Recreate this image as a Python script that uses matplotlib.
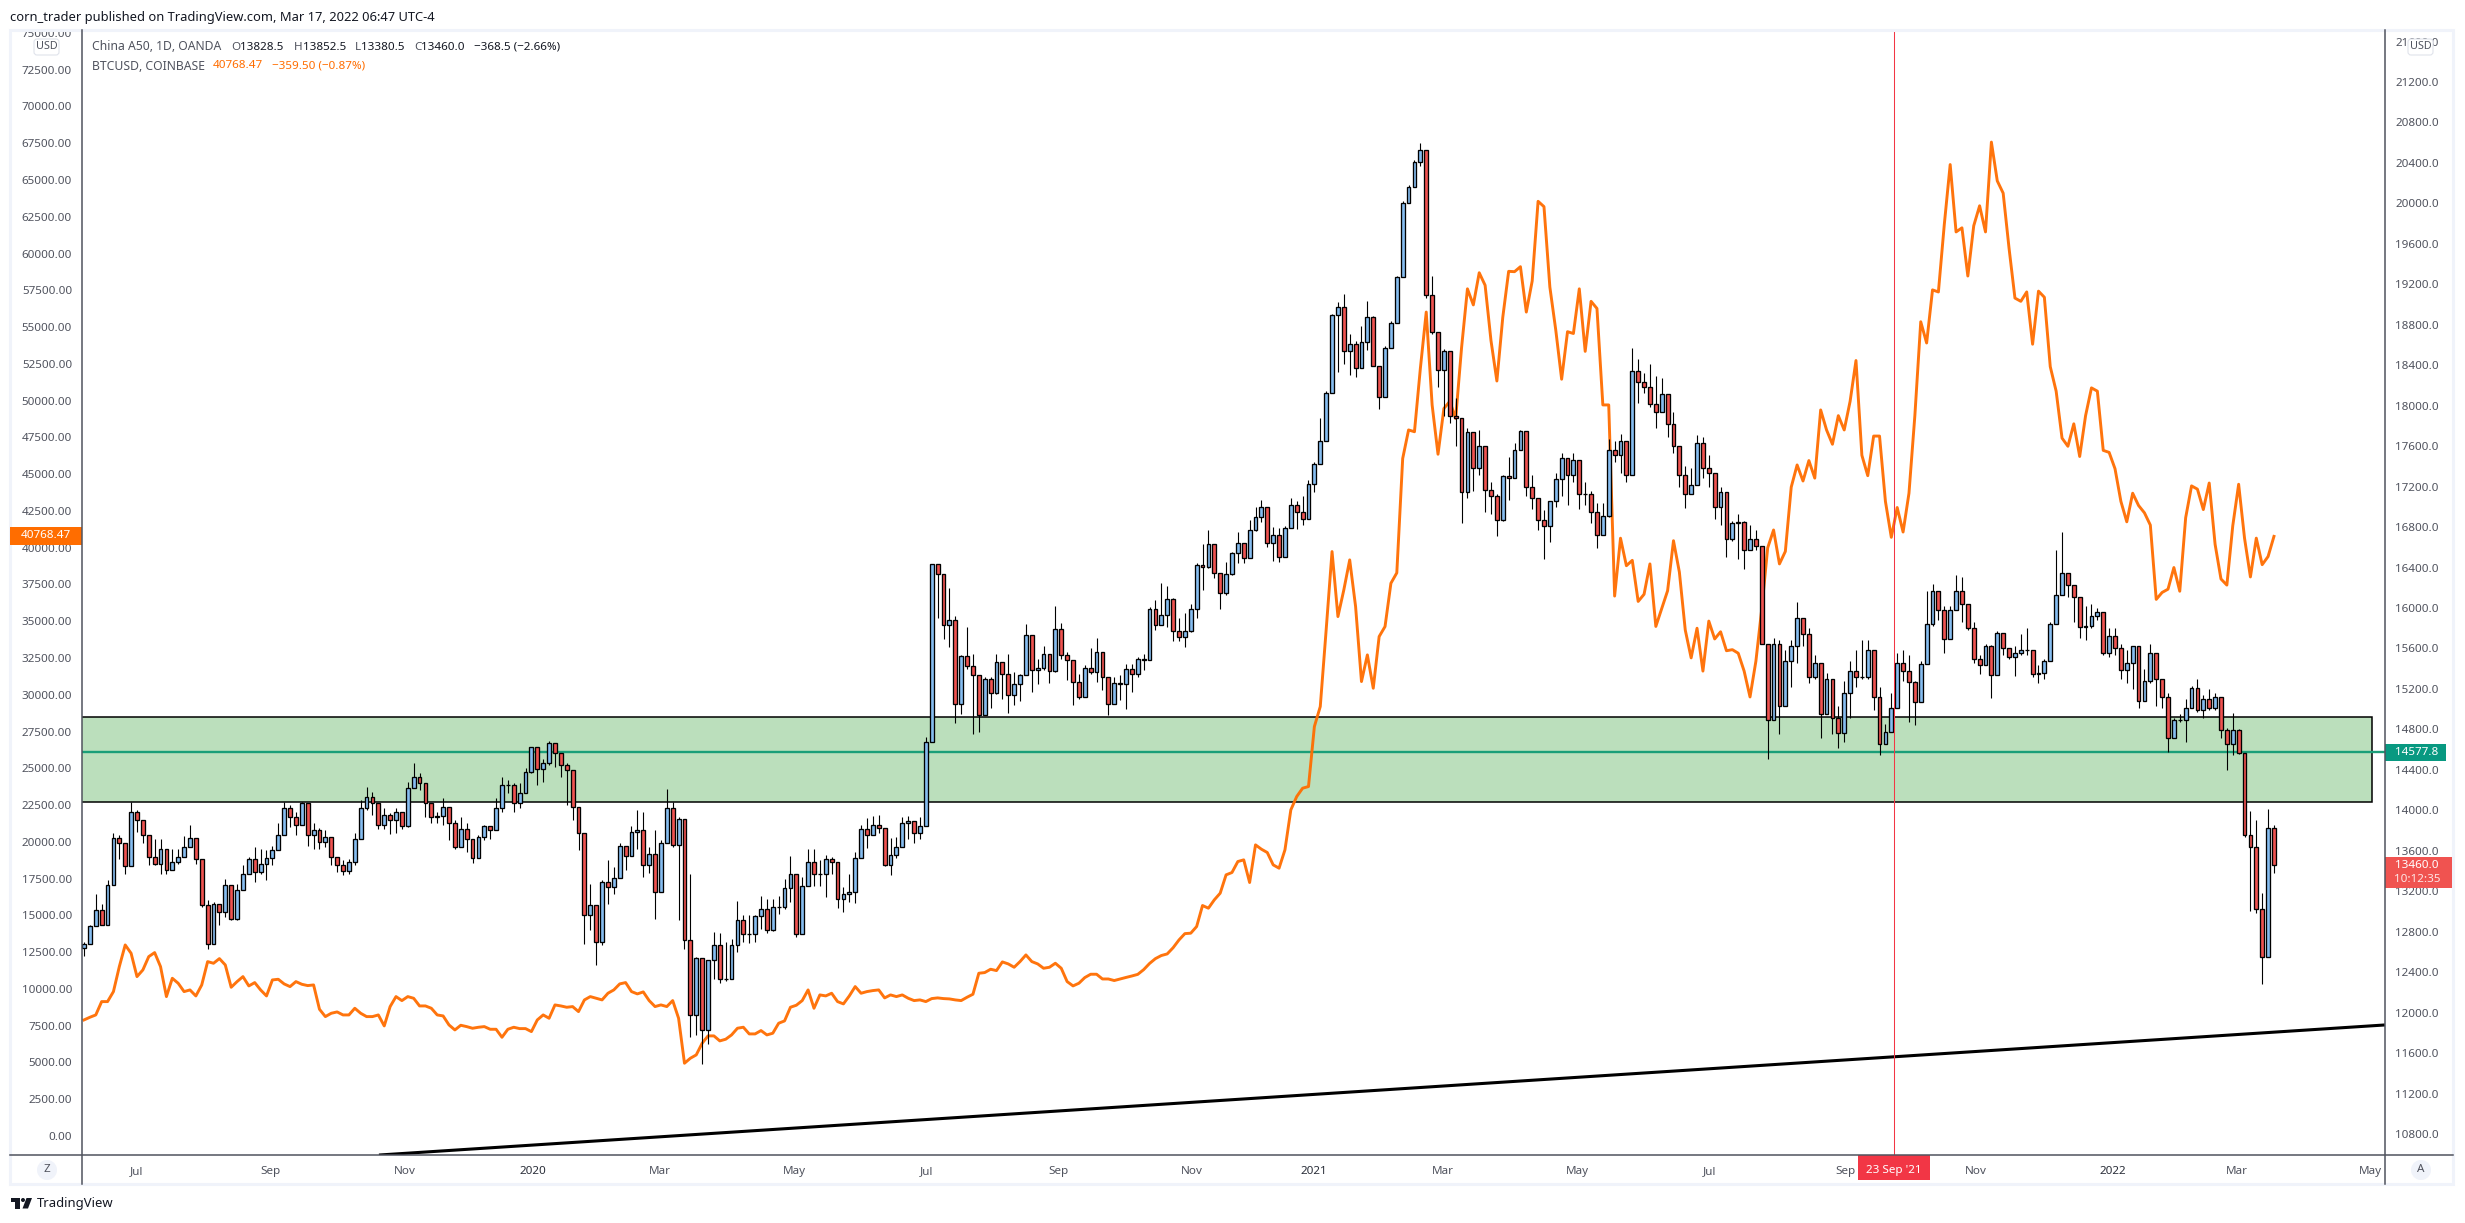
import numpy as np
import matplotlib
matplotlib.use("Agg")
import matplotlib.pyplot as plt
from matplotlib.patches import Rectangle, Circle, Polygon, FancyBboxPatch
from matplotlib.lines import Line2D

plt.rcParams['font.family'] = ['Noto Sans', 'DejaVu Sans']

# China A50 daily candles, sampled every second session (close / high / low)
a50_first_open = 12640
a50_close = [
12675,12854,13012,12870,13260,13731,13672,13454,13985,13903,13755,13540,13474,13613,13408,13490,13540,13639,13731,13514,13061,12682,13078,12995,13260,12930,13210,13375,13514,13391,13474,13533,13606,13755,14018,13936,13853,14068,13755,13804,13689,13738,13540,13457,13401,13490,13721,14018,14134,14068,13853,13952,13903,13985,13844,14217,14325,14266,14068,13929,13943,14035,13870,13639,13820,13721,13533,13738,13844,13804,14018,14250,14250,14068,14167,14381,14622,14405,14464,14669,14570,14447,14398,14035,13771,12963,13061,12699,
13293,13243,13335,13646,13547,13788,13804,13457,13573,13193,13672,14018,13655,13910,12715,11973,12543,11824,12517,12666,12336,12336,12666,12920,12781,12781,12953,13029,12814,13045,13045,13236,13375,12781,13250,13491,13375,13375,13514,13491,13127,13177,13193,13524,13811,13755,13854,13821,13457,13557,13639,13870,13893,13778,13844,14679,
16431,16332,15830,15886,15048,15527,15425,15335,14946,15302,15160,15467,15345,15137,15253,15335,15731,15392,15411,15550,15378,15788,15533,15484,15270,15121,15411,15368,15567,15319,15055,15260,15253,15401,15352,15500,15490,15986,15830,15930,16085,15771,15715,15771,15986,16425,16408,16632,16342,16144,16335,16540,16639,
16490,16771,16900,17000,16646,16720,
16507,16789,17018,16948,16877,17230,17424,17654,18130,18896,18978,18536,18607,18377,18625,18872,18395,18085,18572,18819,19271,20001,20160,20407,20524,19094,18731,18353,18536,17901,17883,17142,17742,17389,17601,17167,17107,16870,17301,17283,17566,17753,17195,17089,16870,16807,17054,17273,17484,17319,17460,17125,17125,16948,16719,16905,17566,17513,17654,17319,18342,18236,18183,18014,17936,18113,17823,17601,17319,17131,17213,17636,17389,17336,17001,17142,16683,16842,16849,16577,16683,16613,15649,14893,
15641,15036,15479,15621,15903,15742,15318,15459,14955,15298,14914,14761,15157,15379,15318,15318,15580,15116,14652,14773,15015,15459,15379,15270,15068,15447,15843,16166,15984,15689,15984,16173,16036,15802,15500,15439,15621,15338,15754,15609,15520,15560,15580,15580,15350,15358,15479,15843,16133,16347,16226,16105,15810,15822,15923,15964,15560,15722,15600,15391,15459,15621,15076,15278,15560,15298,15124,14713,14894,14894,15015,15205,14995,15096,15015,15116,14793,14652,14793,
14569,13755,13634,13021,12553,13828.5,13460]
a50_high = [
12700,12864,13177,13078,13309,13778,13755,13639,14085,14002,13886,13705,13712,13712,13622,13622,13622,13745,13853,13705,13507,13111,13095,13078,13316,13260,13276,13457,13540,13639,13622,13606,13646,13870,14085,14052,13985,14085,13903,13870,13821,13804,13738,13540,13507,13523,13771,14101,14233,14183,14068,14018,13969,14018,13919,14282,14464,14365,14250,14068,13985,14117,14018,13903,13936,13870,13721,13755,13853,13844,14117,14332,14299,14266,14266,14414,14629,14497,14504,14688,14603,14481,14464,14200,14018,13606,13276,13061,
13309,13507,13441,13672,13639,13844,14002,13985,13639,13804,13705,14207,14085,13936,13606,13375,12550,12484,12524,12797,12787,12699,12732,13101,12963,12963,12963,13151,13127,13127,13151,13325,13547,13111,13342,13622,13622,13507,13557,13540,13375,13243,13368,13589,13854,13920,13943,13953,13821,13722,13738,13936,13943,13854,13936,14728,
16431,16375,16217,16193,15920,15533,15814,15543,15335,15319,15319,15550,15451,15550,15369,15352,15840,15698,15500,15623,15435,16019,15847,15567,15484,15345,15435,15600,15708,15500,15204,15319,15335,15451,15451,15517,15543,16005,16078,16243,16217,16094,15906,15946,16038,16441,16632,16771,16589,16342,16457,16557,16755,
16620,16870,17000,17070,17000,16800,
16790,16807,17089,17054,17107,17266,17442,17883,18148,18907,19030,19101,18713,18642,18791,19031,18889,18289,18589,18836,19278,20019,20178,20425,20601,20083,19278,18660,18565,18413,18077,17883,17777,17601,17760,17520,17248,17124,17319,17495,17636,17760,17753,17319,17089,16966,17054,17336,17530,17354,17530,17248,17248,17160,17036,17036,17672,17654,17724,17654,18572,18466,18325,18413,18289,18272,18113,17936,17601,17400,17389,17707,17689,17513,17336,17195,17142,16860,16930,16860,16824,16771,16613,15649,
15701,15681,15580,15681,16064,15863,15802,15540,15459,15358,15257,15036,15278,15480,15580,15681,15681,15580,15217,14854,15157,15560,15580,15540,15278,15480,16166,16238,16125,16024,16024,16327,16307,16024,15863,15540,15649,15633,15770,15722,15600,15621,15742,15802,15580,15439,15500,15863,16569,16750,16347,16226,16105,16024,16044,16004,15964,15802,15802,15641,15580,15621,15237,15399,15641,15419,15298,15157,14915,14955,15096,15229,15298,15136,15197,15157,14995,14814,14963,
14800,14569,13993,13904,13179,14013,13852.5]
a50_low = [
12557,12748,12897,12864,12880,13260,13523,13375,13639,13787,13672,13457,13457,13375,13368,13425,13474,13590,13655,13474,13045,12632,12864,12864,12946,12913,12913,13226,13375,13292,13375,13309,13457,13606,13837,13837,13755,13853,13646,13622,13622,13639,13457,13391,13365,13375,13457,13820,14002,13952,13820,13820,13764,13771,13820,13837,14217,14200,13936,13870,13870,13853,13705,13622,13705,13590,13481,13556,13705,13712,13886,13985,14167,13985,14018,14183,14365,14250,14282,14447,14431,14332,14052,13903,13606,12675,12814,12467,
12666,13071,13177,13335,13408,13557,13613,13342,13382,12930,13193,13672,13639,12913,12633,11758,11774,11494,11692,12336,12293,12312,12329,12600,12699,12689,12699,12830,12787,12807,12979,13029,13095,12748,12830,13342,13250,13250,13144,13375,13038,12996,13095,13085,13524,13632,13764,13771,13448,13358,13533,13672,13721,13672,13721,13844,
14907,15897,15692,15616,14864,14956,15401,14751,14775,14949,15012,15154,15105,14963,15039,15081,15335,15170,15253,15385,15260,15368,15500,15286,15045,15105,15246,15352,15270,15187,14946,15071,15088,15005,15170,15319,15385,15484,15781,15830,15814,15675,15675,15616,15765,15897,16177,16391,16292,15986,16127,16325,16441,
16441,16590,16760,16850,16600,16460,
16454,16630,16789,16779,16824,16913,17142,17424,17689,18378,18332,18413,18307,18279,18483,18554,18395,17972,18360,18572,18819,19613,20001,20301,20372,19066,18713,18183,17901,17831,17601,16842,17089,17160,17319,16948,16930,16708,16860,17071,17283,17566,17107,16983,16771,16489,16648,17001,17107,17019,17248,16983,17019,16842,16595,16771,16895,17442,17336,17248,17530,18025,18130,17989,17777,17936,17689,17530,17195,16990,17124,17301,17283,17195,16877,16824,16507,16666,16489,16390,16577,16577,15640,14511,
14894,14753,15298,15217,15459,15621,15257,15298,14713,15056,14753,14612,14672,14914,15217,15298,15298,14995,14551,14672,14773,15015,15278,14874,14842,15076,15459,15823,15883,15560,15701,15984,15863,15782,15459,15350,15439,15108,15338,15540,15500,15326,15540,15540,15318,15257,15298,15479,15843,16266,16105,15863,15701,15681,15802,15883,15540,15520,15540,15298,15257,15197,15015,15137,15257,15036,15015,14572,14874,14874,14672,15015,14975,14914,14995,14995,14713,14398,14551,
14556,13739,13007,12981,12283,12553,13380.5]

# BTCUSD close on the same sampled sessions
btc_close = [
7892,8073,8231,9138,9138,9818,11517,12990,12424,10837,11291,12197,12469,11517,9478,10724,10384,9818,9931,9523,10271,11857,11744,12061,11630,10112,10497,10837,10203,10430,9931,9523,10611,10656,10339,10158,10497,10316,10226,10271,8617,8118,8345,8435,8231,8231,8685,8345,8118,8118,8231,7484,8798,9478,9206,9478,9364,8843,8843,8685,8231,8164,7552,7212,7529,7438,7325,7393,7438,7257,7257,6713,7257,7393,7302,7302,7098,7892,8231,8005,8911,8843,8753,8798,8458,9251,9478,9364,
9253,9706,9933,10340,10431,9819,9661,9797,9207,8800,8913,8800,9207,8006,4947,5287,5514,6307,6806,6806,6466,6579,6873,7327,7395,6941,6941,7168,6873,6987,7667,7825,8754,8890,9207,9933,8686,9593,9525,9706,9139,8981,9525,10159,9706,9819,9887,9933,9389,9593,9479,9593,9366,9207,9253,9139,9343,9389,9343,9321,9253,9207,9434,9638,11066,11111,11338,11247,11836,11700,11473,11859,12312,11859,11700,11405,11473,11745,11405,10499,10205,10386,10771,10998,10998,
10676,10676,10570,10676,10780,10880,10990,11310,11730,12060,12270,12380,12800,13330,13760,
13789,14243,15670,15489,16055,16509,17755,17914,18661,18775,17234,19794,19500,19273,18435,18208,19454,22174,23080,23646,23760,27839,29198,34410,39735,35316,37129,39169,35996,30898,32710,30444,33957,34637,37582,
38288,46061,48004,47883,52182,56020,49705,46353,49462,49948,48782,53591,57599,56506,58692,57842,54077,51332,55656,58789,58765,59105,56020,58133,63550,63186,57720,54806,51454,54684,54563,57599,53348,56749,56263,49705,49705,36710,40645,38774,39139,36345,36831,38896,34645,35859,37074,40474,38337,34402,32507,34523,31609,35009,33795,34281,32993,33066,32823,31609,29850,32289,35859,39989,41203,38896,39746,44118,45624,
44534,45922,44729,49365,48004,47033,48976,48004,49948,52724,46283,44895,47588,47588,43146,40704,42730,41064,43702,48976,55361,53917,57526,57387,61968,66048,61468,61746,58470,61884,63245,61468,67575,64938,64105,60358,56971,56749,57387,53834,57443,57026,52307,50642,47449,46894,48421,46200,48976,50864,50642,46616,46478,45367,43146,41758,43702,42869,42369,41536,36484,36956,37178,38649,37039,42036,44201,43979,42591,44396,40232,37872,37456,41481,44312,40648,38011,40648,38844,39399,40768.47]

# Axis labels
time_labels = ['Jul','Sep','Nov','2020','Mar','May','Jul','Sep','Nov','2021','Mar','May','Jul','Sep','Nov','2022','Mar','May']
time_sessions = [17.7,63.5,109,152.5,195.7,241.2,286.4,330.9,376.4,417.9,461.7,507.2,552.4,598.3,642.8,689.3,731.4,776.9]
left_ticks = list(range(0, 75001, 2500))
right_ticks = list(range(10800, 21601, 400))

# Drawings
zone_low, zone_high = 14082, 14922
zone_end_session = 777.3
price_line = 14577.8
trend_sessions = [100.2, 781.7]
trend_values = [10592, 11878]
marker_session = 614.9

W, H = 2465, 1223
X0, X1, Y_TOP, Y_BOT = 82, 2385, 30, 1155
SESSION_PX = 2.9435
fig = plt.figure(figsize=(W/100, H/100), dpi=100, facecolor='white')
rect = [X0/W, 1-Y_BOT/H, (X1-X0)/W, (Y_BOT-Y_TOP)/H]
xlim = (-(84-X0)/SESSION_PX, (X1-84)/SESSION_PX)
a50_lim = (10800+(1134-Y_BOT)*9.886, 10800+(1134-Y_TOP)*9.886)
btc_lim = ((1136-Y_BOT)*67.99, (1136-Y_TOP)*67.99)

GREY = '#50535e'
FS = 8.4

ax_zone = fig.add_axes(rect, zorder=1)
ax_btc = fig.add_axes(rect, zorder=2, facecolor='none')
ax_a50 = fig.add_axes(rect, zorder=3, facecolor='none')
for a in (ax_zone, ax_btc, ax_a50):
    a.set_xlim(*xlim)
    for s in a.spines.values():
        s.set_visible(False)
ax_zone.set_ylim(*a50_lim); ax_a50.set_ylim(*a50_lim); ax_btc.set_ylim(*btc_lim)

# zone
ax_zone.add_patch(Rectangle((xlim[0]-20, zone_low), zone_end_session-xlim[0]+20, zone_high-zone_low,
                            facecolor='#bbdfbc', edgecolor='black', linewidth=1.1))
ax_zone.axhline(price_line, color='#1a9e78', lw=1.7)
ax_zone.set_yticks([])
ax_zone.set_xticks(time_sessions)
ax_zone.set_xticklabels(time_labels, fontsize=FS, color=GREY)
ax_zone.tick_params(axis='x', length=0, pad=8)
for lab, t in zip(ax_zone.get_xticklabels(), time_labels):
    if t.startswith('20'):
        lab.set_color('#2a2e39'); lab.set_fontweight('medium')

# BTC line
assert len(btc_close) == len(a50_close) == len(a50_high) == len(a50_low), (len(btc_close), len(a50_close), len(a50_high), len(a50_low))
x = np.arange(len(a50_close))*2.0
ax_btc.plot(x, btc_close, color='#ff6d00', lw=2.1, solid_joinstyle='round', alpha=0.95)
ax_btc.set_xticks([])
ax_btc.set_yticks(left_ticks)
ax_btc.set_yticklabels([f'{v:.2f}' for v in left_ticks], fontsize=FS, color=GREY)
ax_btc.tick_params(axis='y', length=0, pad=7.2)

# candles
c = np.array(a50_close, float)
o = np.r_[a50_first_open, c[:-1]]
h = np.maximum(np.array(a50_high, float), np.maximum(o, c))
l = np.minimum(np.array(a50_low, float), np.minimum(o, c))
ax_a50.vlines(x, l, h, color='black', lw=0.8, zorder=2)
up = c >= o
ax_a50.bar(x[up], (c-o)[up], bottom=o[up], width=1.3, facecolor='#86bdf0', edgecolor='black', linewidth=0.95, zorder=3)
ax_a50.bar(x[~up], (c-o)[~up], bottom=o[~up], width=1.3, facecolor='#ef5350', edgecolor='black', linewidth=0.95, zorder=3)
ax_a50.axvline(marker_session, color='#f23645', lw=0.75, zorder=5)
ax_a50.plot(trend_sessions, trend_values, color='black', lw=2.2, zorder=4, solid_capstyle='butt')
ax_a50.set_xticks([])
ax_a50.yaxis.tick_right()
ax_a50.set_yticks(right_ticks)
ax_a50.set_yticklabels([f'{v:.1f}' for v in right_ticks], fontsize=FS, color=GREY)
ax_a50.tick_params(axis='y', length=0, pad=7.2)
ax_a50.set_xlim(*xlim); ax_a50.set_ylim(*a50_lim)

# pixel overlay for the TradingView chrome
ov = fig.add_axes([0, 0, 1, 1], zorder=10, facecolor='none')
ov.set_xlim(0, W); ov.set_ylim(H, 0); ov.axis('off')

ov.add_patch(Rectangle((0, 0), W, 29, facecolor='white', edgecolor='none'))
ov.add_patch(Rectangle((10, 30), 2443, 1154, facecolor='none', edgecolor='#f0f3fa', lw=2.2))
ov.add_line(Line2D([10, 2453], [Y_BOT, Y_BOT], color=GREY, lw=1.1))
ov.add_line(Line2D([X0, X0], [30, 1184], color=GREY, lw=1.1))
ov.add_line(Line2D([X1, X1], [30, 1184], color=GREY, lw=1.1))

ov.text(10, 17, 'corn_trader published on TradingView.com, Mar 17, 2022 06:47 UTC-4', fontsize=9.3, color='#131722', va='center', ha='left')

# legend rows
ov.text(92, 47, 'China A50, 1D, OANDA', fontsize=8.8, color=GREY, va='center')
for xp, k, v in [(231, 'O', '13828.5'), (294, 'H', '13852.5'), (355, 'L', '13380.5'), (414, 'C', '13460.0')]:
    t = ov.text(xp, 47, k, fontsize=FS, color=GREY, va='center')
    ov.annotate(v, xy=(1, 0.5), xycoords=t, va='center', fontsize=FS, color='#131722')
ov.text(474, 47, '\u2212368.5 (\u22122.66%)', fontsize=FS, color='#131722', va='center')
ov.text(92, 66, 'BTCUSD, COINBASE', fontsize=8.8, color=GREY, va='center')
ov.text(213, 66, '40768.47', fontsize=FS, color='#ff6d00', va='center')
ov.text(272, 66, '\u2212359.50 (\u22120.87%)', fontsize=FS, color='#ff6d00', va='center')

# currency badges
for bx in (33, 2407):
    ov.add_patch(FancyBboxPatch((bx+1, 39), 25, 16, boxstyle='round,pad=0,rounding_size=3',
                                facecolor='white', edgecolor='#e0e3eb', lw=0.8, mutation_aspect=1))
    ov.text(bx+13.5, 46.5, 'USD', fontsize=7.8, color=GREY, ha='center', va='center')

# price tags
ov.add_patch(Rectangle((10, 527), 72, 18, facecolor='#ff6d00', edgecolor='none'))
ov.text(46, 536, '40768.47', fontsize=FS, color='white', ha='center', va='center')
ov.add_patch(Rectangle((X1, 744), 61, 17, facecolor='#089981', edgecolor='none'))
ov.text(2417, 752.5, '14577.8', fontsize=FS, color='white', ha='center', va='center')
ov.add_patch(Rectangle((X1, 857), 67, 31, facecolor='#f05350', edgecolor='none'))
ov.text(2417, 865.5, '13460.0', fontsize=FS, color='white', ha='center', va='center')
ov.text(2417, 880, '10:12:35', fontsize=FS, color='white', alpha=0.85, ha='center', va='center')

# crosshair date tag
ov.add_patch(Rectangle((1858, Y_BOT), 72, 25, facecolor='#f23645', edgecolor='none'))
ov.text(1894, 1170, "23 Sep '21", fontsize=FS, color='white', ha='center', va='center')

# Z / A buttons
for cx, s in [(47, 'Z'), (2421, 'A')]:
    ov.add_patch(Circle((cx, 1170), 10, facecolor='#f0f3fa', edgecolor='none'))
    ov.text(cx, 1170, s, fontsize=FS, color=GREY, ha='center', va='center')

# logo
ov.add_patch(Rectangle((11, 1198), 9, 4, facecolor='#131722', edgecolor='none'))
ov.add_patch(Rectangle((15, 1198), 4.5, 10.5, facecolor='#131722', edgecolor='none'))
ov.add_patch(Circle((23, 1200), 2, facecolor='#131722', edgecolor='none'))
ov.add_patch(Polygon([(26.5, 1198), (32, 1198), (28, 1208.5), (22.5, 1208.5)], facecolor='#131722', edgecolor='none'))
ov.text(37, 1204, 'TradingView', fontsize=9.4, color='#131722', va='center')

fig.savefig('out.png', dpi=100, facecolor='white')
